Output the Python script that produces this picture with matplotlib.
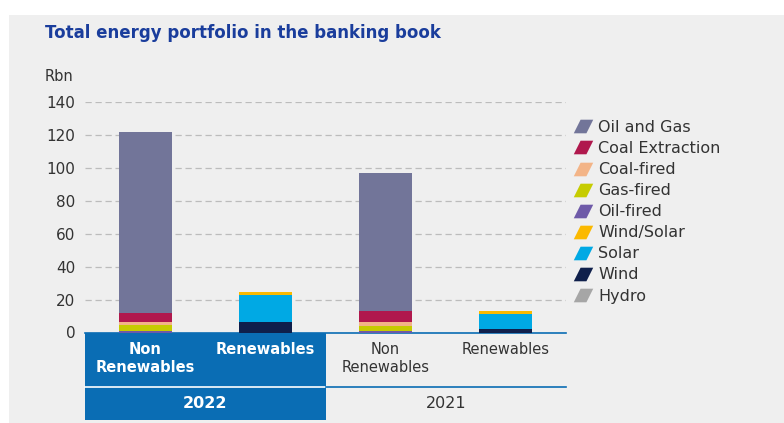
import matplotlib.pyplot as plt
from matplotlib.lines import Line2D
from matplotlib.patches import Rectangle
from matplotlib.path import Path

plt.rcParams['font.family'] = ['DejaVu Sans']

# categories: 2022 non-renewables, 2022 renewables, 2021 non-renewables, 2021 renewables
categories = ['Non\nRenewables', 'Renewables', 'Non\nRenewables', 'Renewables']
years = ['2022', '2021']

# segments stacked bottom to top (Rbn)
hydro = [0, 0, 0, 0]
wind = [0, 6.6, 0, 2.4]
solar = [0, 16.0, 0, 8.7]
wind_solar = [0, 2.2, 0, 1.8]
oil_fired = [1.0, 0, 0.8, 0]
gas_fired = [3.5, 0, 3.0, 0]
coal_fired = [2.0, 0, 2.4, 0]
coal_extraction = [5.2, 0, 6.7, 0]
oil_and_gas = [110.0, 0, 84.0, 0]

series = [
    ('Hydro', hydro, '#a6a6a6'),
    ('Wind', wind, '#0f1f4b'),
    ('Solar', solar, '#00a9e4'),
    ('Wind/Solar', wind_solar, '#fbb900'),
    ('Oil-fired', oil_fired, '#6e5aa8'),
    ('Gas-fired', gas_fired, '#c6cc00'),
    ('Coal-fired', coal_fired, '#f3b487'),
    ('Coal Extraction', coal_extraction, '#b0184d'),
    ('Oil and Gas', oil_and_gas, '#727599'),
]

bg = '#efefef'
band_blue = '#0a6db4'
text_dark = '#333333'

fig = plt.figure(figsize=(7.84, 4.23), dpi=100)
fig.patch.set_facecolor('white')
# grey panel behind the chart
fig.patches.append(Rectangle((9 / 784, 0), 1, 1 - 15 / 423, transform=fig.transFigure,
                             facecolor=bg, edgecolor='none', zorder=-10))

ax = fig.add_axes([85 / 784, 1 - 332.5 / 423, 481 / 784, 230.5 / 423])
ax.set_facecolor(bg)
ax.patch.set_alpha(0)

x = range(len(categories))
bottom = [0] * len(categories)
for name, vals, color in series:
    ax.bar(x, vals, width=0.44, bottom=bottom, color=color, zorder=3)
    bottom = [b + v for b, v in zip(bottom, vals)]

ax.set_xlim(-0.5, 3.5)
ax.set_ylim(0, 140)
ax.set_yticks(range(0, 141, 20))
ax.tick_params(axis='y', length=0, pad=7, labelsize=11, labelcolor=text_dark)
ax.set_xticks([])
ax.grid(axis='y', color='#bcbcbc', linestyle=(0, (5, 3)), linewidth=0.9)
for s in ['left', 'right', 'top']:
    ax.spines[s].set_visible(False)
ax.spines['bottom'].set_color(band_blue)
ax.spines['bottom'].set_linewidth(1.2)

ax.text(-40 / 481, (332.5 - 77) / 230.5, 'Rbn', transform=ax.transAxes, ha='left',
        va='center', fontsize=10.5, color=text_dark)

# category band under the axis
band_h = (420 - 332.5) / 230.5
sep_y = -(387 - 332.5) / 230.5
ax.add_patch(Rectangle((0, -band_h), 0.5, band_h, transform=ax.transAxes,
                       facecolor=band_blue, edgecolor='none', clip_on=False))
ax.plot([0, 0.5], [sep_y, sep_y], transform=ax.transAxes, color='white',
        linewidth=1.2, clip_on=False)
ax.plot([0.5, 1], [sep_y, sep_y], transform=ax.transAxes, color=band_blue,
        linewidth=1.2, clip_on=False)

trans = ax.get_xaxis_transform()
for i, lab in enumerate(categories):
    first = i < 2
    ax.text(i, -0.04, lab, transform=trans, ha='center', va='top',
            fontsize=10.5, linespacing=1.3,
            color='white' if first else text_dark,
            fontweight='bold' if first else 'normal')
for j, yr in enumerate(years):
    ax.text(0.5 + 2 * j, -(403 - 332.5) / 230.5, yr, transform=trans, ha='center',
            va='center', fontsize=11.5, color='white' if j == 0 else text_dark,
            fontweight='bold' if j == 0 else 'normal')

fig.text(45 / 784, 1 - 33 / 423, 'Total energy portfolio in the banking book',
         ha='left', va='center', fontsize=12, fontweight='bold', color='#1a3d9c')

# slanted legend swatches
para = Path([(-1, -0.7), (0.3, -0.7), (1, 0.7), (-0.3, 0.7), (-1, -0.7)])
handles = [Line2D([], [], marker=para, linestyle='none', markersize=14,
                  markerfacecolor=c, markeredgecolor='none', label=n)
           for n, v, c in series[::-1]]
fig.legend(handles=handles, loc='upper left', bbox_to_anchor=(575 / 784, 1 - 120 / 423),
           frameon=False, fontsize=11.5, labelspacing=0.38, handlelength=1.0,
           handletextpad=0.45, borderaxespad=0, borderpad=0, labelcolor=text_dark)

fig.savefig('out.png', dpi=100, facecolor=fig.get_facecolor())
